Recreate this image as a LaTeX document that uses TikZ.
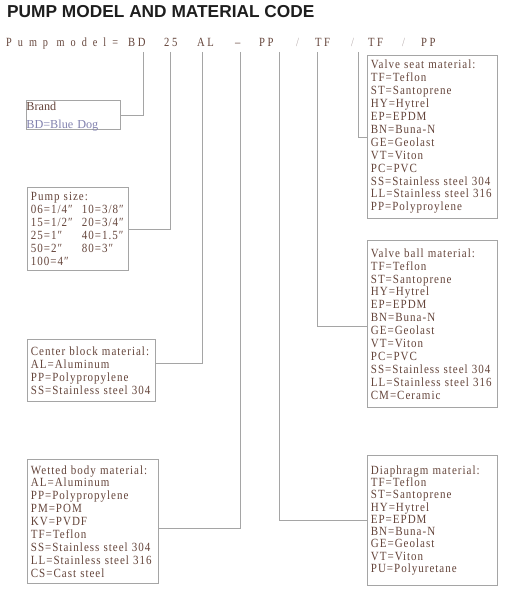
\documentclass[tikz,border=0pt]{standalone}
\usepackage{fontspec}
\setmainfont{Liberation Serif}
\newfontfamily\titlefont{Liberation Sans}
\newfontfamily\boxfont{Liberation Serif}[FakeStretch=0.88,LetterSpace=8]
\newfontfamily\modelfont{Liberation Serif}[FakeStretch=0.82,LetterSpace=48]
\newfontfamily\codefont{Liberation Serif}[FakeStretch=0.85,LetterSpace=20]
\definecolor{inkbrown}{RGB}{100,68,58}
\definecolor{wiregray}{RGB}{165,165,165}
\definecolor{slashgray}{RGB}{185,175,175}
\definecolor{bluedog}{RGB}{130,130,175}
\definecolor{titlegray}{RGB}{30,30,30}
\begin{document}
\begin{tikzpicture}[x=1pt,y=-1pt,
    wire/.style={draw=wiregray,line width=0.8pt},
    codebox/.style={draw=wiregray,line width=0.8pt,anchor=north west,align=left,
        inner xsep=3.5pt,inner ysep=0pt,text=inkbrown,font=\boxfont\fontsize{12.5}{12.9}\selectfont},
    code/.style={anchor=base west,inner sep=0pt,text=inkbrown,font=\codefont\fontsize{12.5}{14}\selectfont},
    slash/.style={code,text=slashgray}]
    \def\B{47} % baseline of the model line
    \def\T{52} % top of the leader lines
    \useasboundingbox (0,0) rectangle (504,594);

    % Title and model line
    \node[anchor=base west,inner sep=0pt,text=titlegray,font=\titlefont\bfseries\fontsize{17.3}{20}\selectfont]
        (title) at (7,18) {PUMP MODEL AND MATERIAL CODE};
    \node[code,font=\modelfont\fontsize{12.5}{14}\selectfont] (model) at (6,\B) {Pump model=};
    \node[code] (bd) at (128,\B) {BD};
    \node[code] (sz) at (164,\B) {25};
    \node[code] (al) at (197,\B) {AL};
    \node[code] (dash) at (235,\B) {–};
    \node[code] (pp) at (259,\B) {PP};
    \node[slash] (sa) at (296,\B) {/};
    \node[code] (tfa) at (315,\B) {TF};
    \node[slash] (sb) at (351,\B) {/};
    \node[code] (tfb) at (368,\B) {TF};
    \node[slash] (sc) at (402,\B) {/};
    \node[code] (ppb) at (421,\B) {PP};

    % Left boxes
    \node[draw=wiregray,line width=0.8pt,anchor=north west,align=left,inner sep=0pt,
        text width=94pt,text height=10pt,text depth=19pt,text=inkbrown,font=\fontsize{12.2}{18}\selectfont]
        (brand) at (26,100) {Brand\\\textcolor{bluedog}{BD=Blue Dog}};
    \node[codebox,text width=94pt,minimum height=83pt] (size) at (27,187)
        {Pump size:\\
         \makebox[51pt][l]{06=1/4″}10=3/8″\\
         \makebox[51pt][l]{15=1/2″}20=3/4″\\
         \makebox[51pt][l]{25=1″}40=1.5″\\
         \makebox[51pt][l]{50=2″}80=3″\\
         100=4″};
    \node[codebox,text width=121pt,minimum height=62pt] (center) at (27,339)
        {Center block material:\\AL=Aluminum\\PP=Polypropylene\\SS=Stainless steel 304};
    \node[codebox,text width=124pt,minimum height=124pt] (wetted) at (27,459)
        {Wetted body material:\\AL=Aluminum\\PP=Polypropylene\\PM=POM\\KV=PVDF\\TF=Teflon\\
         SS=Stainless steel 304\\LL=Stainless steel 316\\CS=Cast steel};

    % Right boxes
    \node[codebox,text width=123pt,minimum height=163pt] (seat) at (367,55)
        {Valve seat material:\\TF=Teflon\\ST=Santoprene\\HY=Hytrel\\EP=EPDM\\BN=Buna-N\\
         GE=Geolast\\VT=Viton\\PC=PVC\\SS=Stainless steel 304\\LL=Stainless steel 316\\PP=Polyproylene};
    \node[codebox,text width=123pt,minimum height=167pt] (ball) at (367,240)
        {Valve ball material:\\TF=Teflon\\ST=Santoprene\\HY=Hytrel\\EP=EPDM\\BN=Buna-N\\
         GE=Geolast\\VT=Viton\\PC=PVC\\SS=Stainless steel 304\\LL=Stainless steel 316\\CM=Ceramic};
    \node[codebox,text width=123pt,minimum height=130pt,font=\boxfont\fontsize{12.5}{12.3}\selectfont]
        (diaphragm) at (367,455)
        {Diaphragm material:\\TF=Teflon\\ST=Santoprene\\HY=Hytrel\\EP=EPDM\\BN=Buna-N\\
         GE=Geolast\\VT=Viton\\PU=Polyuretane};

    % Leader lines
    \foreach \n/\x in {tbd/143,tsz/170,tal/202,twb/240,tdi/279,tba/317,tse/358}
        \coordinate (\n) at (\x,\T);
    \draw[wire] (tbd) |- (brand.east);
    \draw[wire] (tsz) |- (size.east);
    \draw[wire] (tal) |- ([yshift=7pt]center.east);
    \draw[wire] (twb) |- ([yshift=-7pt]wetted.east);
    \draw[wire] (tdi) |- (diaphragm.west);
    \draw[wire] (tba) |- ([yshift=-2.5pt]ball.west);
    \draw[wire] (tse) |- (seat.west);
\end{tikzpicture}
\end{document}
